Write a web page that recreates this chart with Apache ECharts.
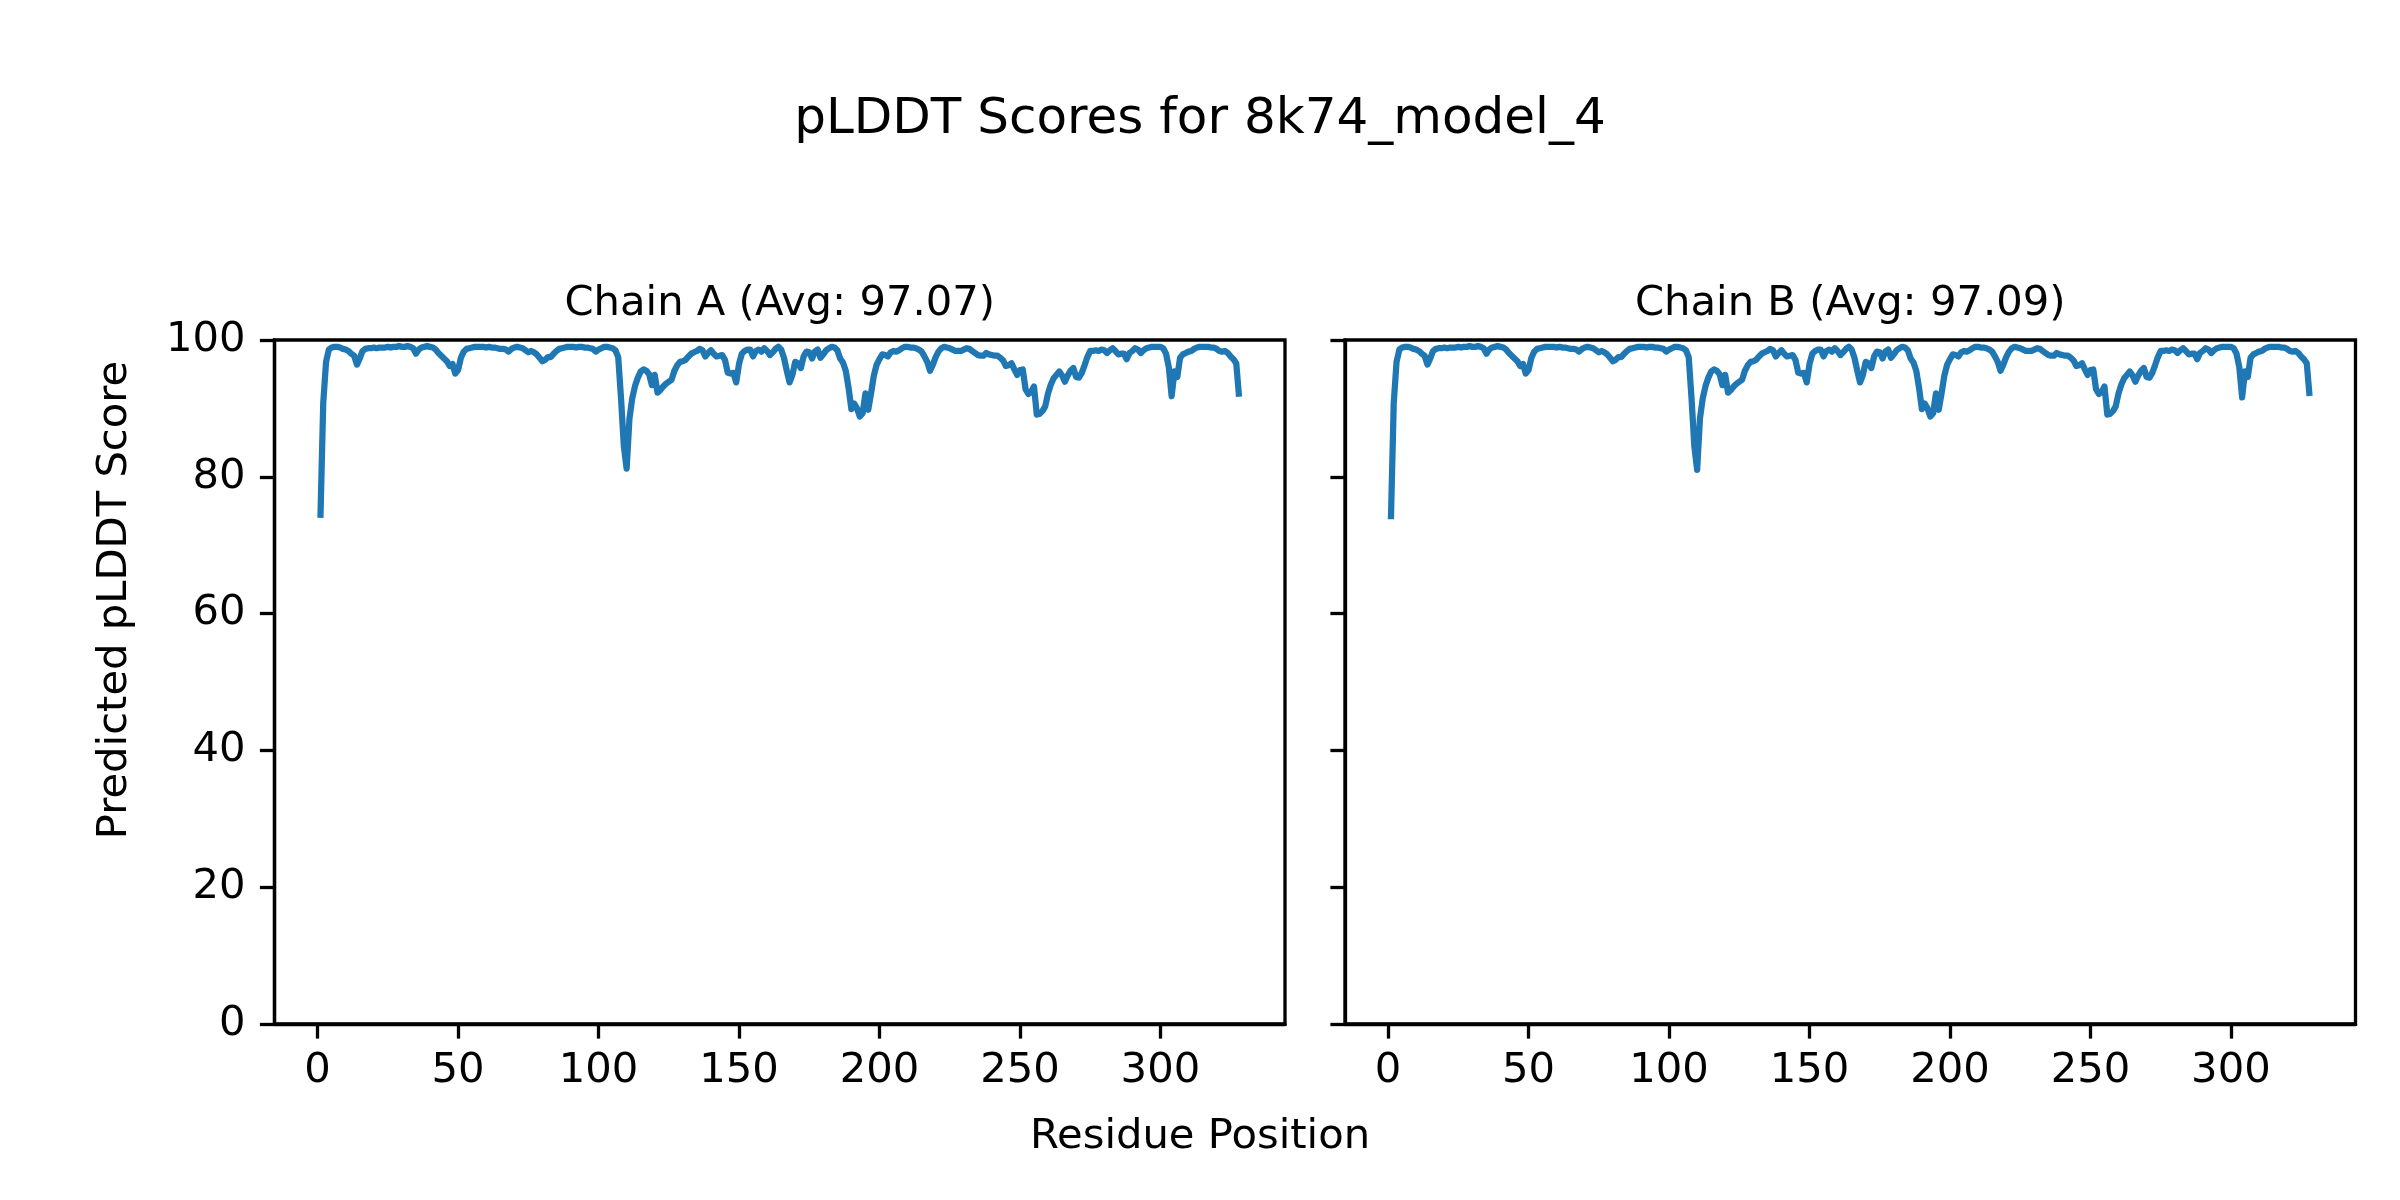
<!DOCTYPE html>
<html>
<head>
<meta charset="utf-8">
<script src="https://cdn.jsdelivr.net/npm/echarts@6/dist/echarts.min.js"></script>
<style>
html,body{margin:0;padding:0;background:#fff;}
#chart{width:2400px;height:1200px;}
</style>
</head>
<body>
<div id="chart"></div>
<script>
const figTitle = "pLDDT Scores for 8k74_model_4";
const chainTitles = ["Chain A (Avg: 97.07)", "Chain B (Avg: 97.09)"];
const xLabel = "Residue Position";
const yLabel = "Predicted pLDDT Score";
const xTicks = [0, 50, 100, 150, 200, 250, 300];
const yTicks = [0, 20, 40, 60, 80, 100];
const firstResidue = 1;

const chainA = [
  74.0, 90.8, 96.8, 98.6, 98.9, 99.0, 99.0, 98.9, 98.7, 98.6,
  98.4, 98.0, 97.7, 96.4, 97.3, 98.4, 98.7, 98.8, 98.8, 98.9,
  98.8, 98.9, 98.9, 98.9, 99.0, 98.9, 99.0, 99.0, 99.1, 99.0,
  99.0, 99.1, 99.0, 98.8, 98.0, 98.6, 98.9, 99.0, 99.1, 99.0,
  98.9, 98.6, 98.1, 97.7, 97.3, 96.9, 96.2, 96.5, 95.1, 95.6,
  97.4, 98.3, 98.7, 98.8, 98.9, 99.0, 99.0, 99.0, 99.0, 98.9,
  99.0, 98.9, 98.9, 98.8, 98.7, 98.7, 98.6, 98.3, 98.7, 98.9,
  99.0, 98.9, 98.8, 98.5, 98.2, 98.4, 98.2, 97.9, 97.4, 96.9,
  97.1, 97.5, 97.5, 98.0, 98.4, 98.7, 98.8, 98.9, 99.0, 99.0,
  99.0, 98.9, 99.0, 99.0, 98.9, 98.9, 98.8, 98.7, 98.3, 98.6,
  98.8, 99.0, 99.0, 98.9, 98.8, 98.5, 97.5, 91.5, 84.5, 81.2,
  88.5, 91.5, 93.3, 94.5, 95.4, 95.7, 95.5, 95.0, 93.4, 94.9,
  92.3, 92.7, 93.2, 93.6, 93.9, 94.2, 95.5, 96.3, 96.8, 96.9,
  97.1, 97.6, 98.0, 98.2, 98.4, 98.7, 98.5, 97.6, 98.1, 98.5,
  98.0, 97.6, 97.7, 97.8, 97.1, 95.2, 95.1, 95.2, 93.8, 96.5,
  98.0, 98.4, 98.6, 98.6, 97.6, 98.4, 98.6, 98.3, 98.8, 98.4,
  97.8, 98.2, 98.7, 99.0, 98.6, 97.4, 95.5, 93.8, 94.9, 96.8,
  96.6, 95.9, 97.6, 98.3, 98.2, 97.3, 98.3, 98.6, 97.4, 97.9,
  98.5, 98.8, 99.0, 98.9, 98.5, 97.3, 96.7, 95.5, 93.0, 89.9,
  90.7, 90.0, 88.8, 89.3, 92.2, 89.8, 92.2, 94.8, 96.4, 97.2,
  97.9, 97.8, 97.6, 98.2, 98.4, 98.3, 98.5, 98.8, 99.0, 99.0,
  98.9, 98.9, 98.8, 98.6, 98.3, 97.6, 96.8, 95.5, 96.4, 97.5,
  98.3, 98.8, 99.0, 98.9, 98.8, 98.6, 98.4, 98.4, 98.4, 98.6,
  98.8, 98.7, 98.4, 98.1, 97.8, 97.7, 97.7, 98.1, 97.9, 97.8,
  97.7, 97.7, 97.4, 97.0, 96.2, 96.3, 96.6, 95.7, 94.9, 95.6,
  95.7, 92.8, 92.1, 92.4, 93.2, 89.1, 89.2, 89.6, 90.3, 92.2,
  93.5, 94.4, 94.9, 95.4, 94.8, 93.9, 94.8, 95.5, 95.9, 94.6,
  94.5, 95.2, 96.3, 97.5, 98.4, 98.4, 98.5, 98.4, 98.6, 98.5,
  98.1, 98.5, 98.8, 98.4, 97.9, 98.0, 98.0, 97.2, 98.1, 98.4,
  98.8, 98.6, 98.1, 98.5, 98.8, 98.9, 99.0, 99.0, 99.0, 99.0,
  98.8, 98.0, 96.0, 91.8, 95.4, 94.6, 97.4, 97.9, 98.1, 98.3,
  98.4, 98.7, 98.9, 99.0, 99.0, 99.0, 99.0, 98.9, 98.9, 98.7,
  98.4, 98.3, 98.4, 98.1, 97.6, 97.2, 96.6, 91.7
];

const chainB = [
  73.8, 90.8, 96.8, 98.6, 98.9, 99.0, 99.0, 98.9, 98.7, 98.6,
  98.4, 98.0, 97.7, 96.4, 97.3, 98.4, 98.7, 98.8, 98.8, 98.9,
  98.8, 98.9, 98.9, 98.9, 99.0, 98.9, 99.0, 99.0, 99.1, 99.0,
  99.0, 99.1, 99.0, 98.8, 98.0, 98.6, 98.9, 99.0, 99.1, 99.0,
  98.9, 98.6, 98.1, 97.7, 97.3, 96.9, 96.2, 96.5, 95.1, 95.6,
  97.4, 98.3, 98.7, 98.8, 98.9, 99.0, 99.0, 99.0, 99.0, 98.9,
  99.0, 98.9, 98.9, 98.8, 98.7, 98.7, 98.6, 98.3, 98.7, 98.9,
  99.0, 98.9, 98.8, 98.5, 98.2, 98.4, 98.2, 97.9, 97.4, 96.9,
  97.1, 97.5, 97.5, 98.0, 98.4, 98.7, 98.8, 98.9, 99.0, 99.0,
  99.0, 98.9, 99.0, 99.0, 98.9, 98.9, 98.8, 98.7, 98.3, 98.6,
  98.8, 99.0, 99.0, 98.9, 98.8, 98.5, 97.5, 91.5, 84.5, 81.0,
  88.5, 91.5, 93.3, 94.5, 95.4, 95.7, 95.5, 95.0, 93.4, 94.9,
  92.3, 92.7, 93.2, 93.6, 93.9, 94.2, 95.5, 96.3, 96.8, 96.9,
  97.1, 97.6, 98.0, 98.2, 98.4, 98.7, 98.5, 97.6, 98.1, 98.5,
  98.0, 97.6, 97.7, 97.8, 97.1, 95.2, 95.1, 95.2, 93.8, 96.5,
  98.0, 98.4, 98.6, 98.6, 97.6, 98.4, 98.6, 98.3, 98.8, 98.4,
  97.8, 98.2, 98.7, 99.0, 98.6, 97.4, 95.5, 93.8, 94.9, 96.8,
  96.6, 95.9, 97.6, 98.3, 98.2, 97.3, 98.3, 98.6, 97.4, 97.9,
  98.5, 98.8, 99.0, 98.9, 98.5, 97.3, 96.7, 95.5, 93.0, 89.9,
  90.7, 90.0, 88.8, 89.3, 92.2, 89.8, 92.2, 94.8, 96.4, 97.2,
  97.9, 97.8, 97.6, 98.2, 98.4, 98.3, 98.5, 98.8, 99.0, 99.0,
  98.9, 98.9, 98.8, 98.6, 98.3, 97.6, 96.8, 95.5, 96.4, 97.5,
  98.3, 98.8, 99.0, 98.9, 98.8, 98.6, 98.4, 98.4, 98.4, 98.6,
  98.8, 98.7, 98.4, 98.1, 97.8, 97.7, 97.7, 98.1, 97.9, 97.8,
  97.7, 97.7, 97.4, 97.0, 96.2, 96.3, 96.6, 95.7, 94.9, 95.6,
  95.7, 92.8, 92.1, 92.4, 93.2, 89.1, 89.2, 89.6, 90.3, 92.2,
  93.5, 94.4, 94.9, 95.4, 94.8, 93.9, 94.8, 95.5, 95.9, 94.6,
  94.5, 95.2, 96.3, 97.5, 98.4, 98.4, 98.5, 98.4, 98.6, 98.5,
  98.1, 98.5, 98.8, 98.4, 97.9, 98.0, 98.0, 97.2, 98.1, 98.4,
  98.8, 98.6, 98.1, 98.5, 98.8, 98.9, 99.0, 99.0, 99.0, 99.0,
  98.8, 98.0, 96.0, 91.6, 95.4, 94.6, 97.4, 97.9, 98.1, 98.3,
  98.4, 98.7, 98.9, 99.0, 99.0, 99.0, 99.0, 98.9, 98.9, 98.7,
  98.4, 98.3, 98.4, 98.1, 97.6, 97.2, 96.6, 91.8
];

const FONT = "DejaVu Sans";
const BLUE = "#1f77b4";
const chains = [chainA, chainB];

const n = chainA.length;
const lastResidue = firstResidue + n - 1;
const pad = (lastResidue - firstResidue) * 0.05;
const xMin = firstResidue - pad, xMax = lastResidue + pad;

const grids = [
  {left: 274.5, top: 340, width: 1010.5, height: 684},
  {left: 1345, top: 340, width: 1010.5, height: 684}
];

const chart = echarts.init(document.getElementById('chart'), null, {renderer: 'canvas', width: 2400, height: 1200});

const option = {
  animation: false,
  backgroundColor: '#ffffff',
  grid: grids.map(g => Object.assign({show: true, borderColor: '#000', borderWidth: 3.3, backgroundColor: 'transparent', containLabel: false}, g)),
  xAxis: grids.map((g, i) => ({
    type: 'value', gridIndex: i, min: xMin, max: xMax,
    axisLine: {show: true, onZero: false, lineStyle: {color: '#000', width: 3.3}},
    axisTick: {show: true, length: 14.6, lineStyle: {color: '#000', width: 3.3}, customValues: xTicks},
    axisLabel: {show: true, margin: 26, color: '#000', fontFamily: FONT, fontSize: 41.7, customValues: xTicks},
    splitLine: {show: false}
  })),
  yAxis: grids.map((g, i) => ({
    type: 'value', gridIndex: i, min: 0, max: 100, interval: 20,
    axisLine: {show: true, onZero: false, lineStyle: {color: '#000', width: 3.3}},
    axisTick: {show: true, length: 14.6, lineStyle: {color: '#000', width: 3.3}},
    axisLabel: {show: i === 0, margin: 29, color: '#000', fontFamily: FONT, fontSize: 41.7},
    splitLine: {show: false}
  })),
  series: chains.map((vals, i) => ({
    type: 'line', xAxisIndex: i, yAxisIndex: i,
    data: vals.map((v, k) => [firstResidue + k, v]),
    showSymbol: false, symbol: 'none', smooth: false,
    lineStyle: {color: BLUE, width: 6.25, join: 'round', cap: 'butt'},
    clip: true
  })),
  graphic: [
    {type: 'text', left: 'center', top: 95, style: {text: figTitle, font: '50px "DejaVu Sans"', fill: '#000'}},
    {type: 'text', x: grids[0].left + grids[0].width / 2, y: 325, style: {text: chainTitles[0], font: '41.7px "DejaVu Sans"', fill: '#000', align: 'center', verticalAlign: 'bottom'}},
    {type: 'text', x: grids[1].left + grids[1].width / 2, y: 325, style: {text: chainTitles[1], font: '41.7px "DejaVu Sans"', fill: '#000', align: 'center', verticalAlign: 'bottom'}},
    {type: 'text', x: 1200, y: 1137, style: {text: xLabel, font: '41.7px "DejaVu Sans"', fill: '#000', align: 'center', verticalAlign: 'middle'}},
    {type: 'text', x: 115, y: 600, rotation: Math.PI / 2, style: {text: yLabel, font: '41.7px "DejaVu Sans"', fill: '#000', align: 'center', verticalAlign: 'middle'}}
  ]
};
chart.setOption(option);
</script>
</body>
</html>
